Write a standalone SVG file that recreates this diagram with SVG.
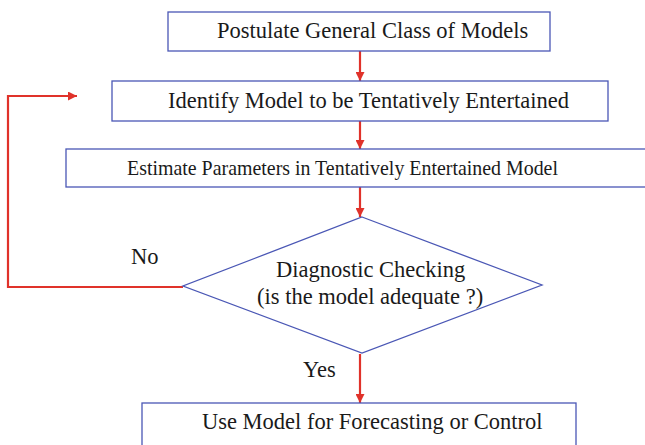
<svg xmlns="http://www.w3.org/2000/svg" width="645" height="445" viewBox="0 0 645 445">
<defs>
<style>
.box{fill:#fff;stroke:#4a57b5;stroke-width:1.3}
.t{font-family:'Liberation Serif','Times New Roman',Times,serif;font-size:22.5px;fill:#1a1a1a}
.c{fill:none;stroke:#e0322a;stroke-width:2.2}
</style>
<marker id="ah" viewBox="0 0 10 10" refX="10" refY="5" markerWidth="10" markerHeight="9" markerUnits="userSpaceOnUse" orient="auto">
<path d="M0,0 L10,5 L0,10 z" fill="#e0322a"/>
</marker>
</defs>
<rect width="645" height="445" fill="#fff"/>
<g id="connectors">
<line class="c" x1="360" y1="51" x2="360" y2="81" marker-end="url(#ah)"/>
<line class="c" x1="360" y1="121" x2="360" y2="149" marker-end="url(#ah)"/>
<line class="c" x1="360" y1="187" x2="360" y2="217" marker-end="url(#ah)"/>
<line class="c" x1="360" y1="354" x2="360" y2="403" marker-end="url(#ah)"/>
<polyline class="c" points="183,287 8,287 8,96 77,96" marker-end="url(#ah)"/>
<text class="t" x="131" y="264">No</text>
<text class="t" x="303" y="377">Yes</text>
</g>
<g id="n1">
<rect class="box" x="168" y="12" width="382" height="39"/>
<text class="t" x="217" y="38">Postulate General Class of Models</text>
</g>
<g id="n2">
<rect class="box" x="112" y="81" width="496" height="40"/>
<text class="t" x="168" y="108">Identify Model to be Tentatively Entertained</text>
</g>
<g id="n3">
<rect class="box" x="66" y="149" width="582" height="38"/>
<text class="t" x="127" y="175" font-size="21" style="font-size:21px" textLength="431" lengthAdjust="spacingAndGlyphs">Estimate Parameters in Tentatively Entertained Model</text>
</g>
<g id="n4">
<polygon class="box" points="362,217 542,285 362,353 183,286"/>
<text class="t" x="276" y="277">Diagnostic Checking</text>
<text class="t" x="257" y="304">(is the model adequate ?)</text>
</g>
<g id="n5">
<rect class="box" x="142" y="403" width="434" height="50"/>
<text class="t" x="202" y="429">Use Model for Forecasting or Control</text>
</g>
</svg>
